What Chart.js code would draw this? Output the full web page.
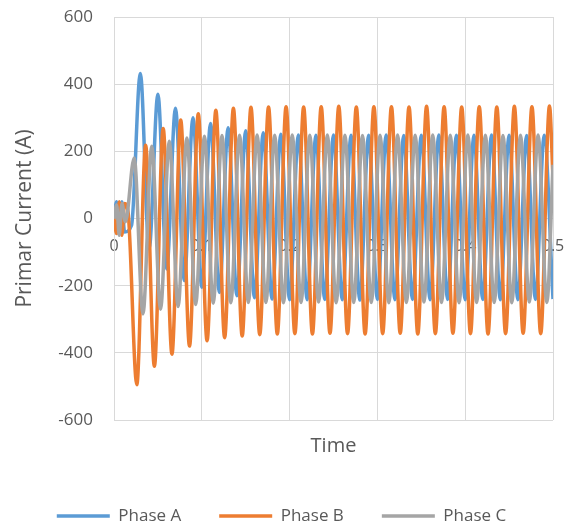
<!DOCTYPE html>
<html>
<head>
<meta charset="utf-8">
<script src="https://cdn.jsdelivr.net/npm/chart.js@4/dist/chart.umd.min.js"></script>
<style>
    html, body { margin: 0; padding: 0; background: #fff; }
    #wrap { width: 569px; height: 529px; }
</style>
</head>
<body>
<div id="wrap"><canvas id="currentChart" width="569" height="529"></canvas></div>
<script>
// Primary current per phase at each peak / trough
const timeA = [0, 0.003, 0.006, 0.009, 0.012, 0.02,
    0.03, 0.04, 0.05, 0.06, 0.07, 0.08, 0.09, 0.1,
    0.11, 0.12, 0.13, 0.14, 0.15, 0.16, 0.17, 0.18, 0.19, 0.2,
    0.21, 0.22, 0.23, 0.24, 0.25, 0.26, 0.27, 0.28, 0.29, 0.3,
    0.31, 0.32, 0.33, 0.34, 0.35, 0.36, 0.37, 0.38, 0.39, 0.4,
    0.41, 0.42, 0.43, 0.44, 0.45, 0.46, 0.47, 0.48, 0.49, 0.5];
const currentA = [0, 50, -45, 50, -40, -20,
    432, -90, 370, -150, 328, -185, 300, -205,
    283, -220, 270, -230, 261, -236, 255, -240, 251, -242,
    249, -242, 248, -241, 249, -242, 248, -243, 248, -241,
    249, -242, 247, -241, 248, -242, 249, -241, 248, -242,
    248, -241, 249, -242, 248, -242, 247, -241, 248, -240];

const timeB = [0, 0.003, 0.006, 0.009, 0.012, 0.016,
    0.026, 0.036, 0.046, 0.056, 0.066, 0.076, 0.086, 0.096,
    0.106, 0.116, 0.126, 0.136, 0.146, 0.156, 0.166, 0.176, 0.186, 0.196,
    0.206, 0.216, 0.226, 0.236, 0.246, 0.256, 0.266, 0.276, 0.286, 0.296,
    0.306, 0.316, 0.326, 0.336, 0.346, 0.356, 0.366, 0.376, 0.386, 0.396,
    0.406, 0.416, 0.426, 0.436, 0.446, 0.456, 0.466, 0.476, 0.486, 0.496, 0.5];
const currentB = [0, -45, 50, -50, 45, 20,
    -495, 218, -440, 268, -404, 293, -380, 312,
    -364, 322, -355, 328, -350, 331, -346, 332, -344, 333,
    -343, 332, -344, 333, -342, 334, -343, 332, -344, 333,
    -343, 333, -342, 332, -344, 334, -343, 333, -342, 332,
    -343, 333, -344, 332, -343, 334, -342, 333, -343, 335, 120];

const timeC = [0, 0.003, 0.006, 0.009, 0.013,
    0.023, 0.033, 0.043, 0.053, 0.063, 0.073, 0.083, 0.093,
    0.103, 0.113, 0.123, 0.133, 0.143, 0.153, 0.163, 0.173, 0.183, 0.193,
    0.203, 0.213, 0.223, 0.233, 0.243, 0.253, 0.263, 0.273, 0.283, 0.293,
    0.303, 0.313, 0.323, 0.333, 0.343, 0.353, 0.363, 0.373, 0.383, 0.393,
    0.403, 0.413, 0.423, 0.433, 0.443, 0.453, 0.463, 0.473, 0.483, 0.493, 0.5];
const currentC = [0, 40, -50, 45, -10,
    180, -284, 215, -270, 230, -262, 240, -256,
    245, -252, 247, -251, 248, -250, 249, -250, 248, -251,
    249, -250, 248, -249, 249, -251, 248, -250, 247, -250,
    248, -251, 249, -250, 248, -249, 249, -250, 248, -251,
    249, -250, 248, -250, 247, -251, 248, -249, 249, -250, 160];

const phaseNames = ['Phase A', 'Phase B', 'Phase C'];
const xTicks = [0, 0.1, 0.2, 0.3, 0.4, 0.5];
const yTicks = [-600, -400, -200, 0, 200, 400, 600];

const toPoints = (t, v) => t.map((x, i) => ({ x: x, y: v[i] }));

Chart.defaults.font.family = "'Open Sans', sans-serif";
Chart.defaults.color = '#595959';

const gridColor = '#d9d9d9';

const ctx = document.getElementById('currentChart').getContext('2d');
const currentChart = new Chart(ctx, {
    type: 'line',
    data: {
        datasets: [{
            label: phaseNames[0],
            data: toPoints(timeA, currentA),
            borderColor: '#5b9bd5',
            backgroundColor: '#5b9bd5',
            order: 3
        }, {
            label: phaseNames[1],
            data: toPoints(timeB, currentB),
            borderColor: '#ed7d31',
            backgroundColor: '#ed7d31',
            order: 2
        }, {
            label: phaseNames[2],
            data: toPoints(timeC, currentC),
            borderColor: '#a5a5a5',
            backgroundColor: '#a5a5a5',
            order: 1
        }]
    },
    options: {
        responsive: false,
        animation: false,
        datasets: {
            line: {
                borderWidth: 3.5,
                pointRadius: 0,
                cubicInterpolationMode: 'monotone'
            }
        },
        layout: {
            padding: { left: 10, right: 16, top: 17, bottom: -5.5 }
        },
        plugins: {
            tooltip: { enabled: false },
            legend: {
                position: 'bottom',
                labels: {
                    usePointStyle: true,
                    pointStyle: 'line',
                    pointStyleWidth: 53,
                    padding: 38,
                    font: { size: 17 },
                    sort: (a, b) => a.datasetIndex - b.datasetIndex
                }
            }
        },
        scales: {
            x: {
                type: 'linear',
                min: 0,
                max: 0.5,
                position: { y: 0 },
                afterBuildTicks: (scale) => { scale.ticks = xTicks.map(v => ({ value: v })); },
                // invisible tick marks keep the labels below the zero line
                grid: { color: gridColor, drawTicks: true, tickLength: 16, tickColor: 'rgba(0,0,0,0)' },
                border: { color: gridColor },
                ticks: { padding: 2, maxRotation: 0, font: { size: 16 } }
            },
            x2: {
                type: 'linear',
                position: 'bottom',
                min: 0,
                max: 0.5,
                grid: { display: false, drawTicks: false },
                border: { display: false },
                ticks: { display: false },
                title: {
                    display: true,
                    text: 'Time',
                    font: { size: 20 },
                    padding: { top: 14, bottom: 11.5 }
                }
            },
            y: {
                min: -600,
                max: 600,
                afterBuildTicks: (scale) => { scale.ticks = yTicks.map(v => ({ value: v })); },
                afterFit: (scale) => { scale.width = 104; },
                grid: { color: gridColor, drawTicks: true, tickLength: 18, tickColor: 'rgba(0,0,0,0)' },
                border: { color: gridColor },
                ticks: { padding: 3, font: { size: 17 } },
                title: {
                    display: true,
                    text: 'Primar Current (A)',
                    font: { size: 21 },
                    padding: { top: 2, bottom: 4 }
                }
            }
        }
    }
});
</script>
</body>
</html>
